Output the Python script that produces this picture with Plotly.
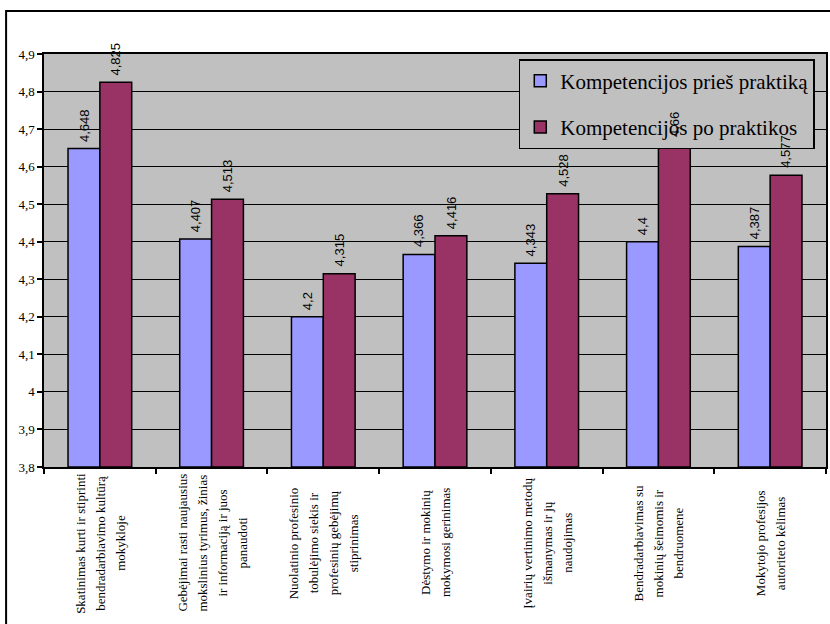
import plotly.graph_objects as go

categories = [
    ["Skatinimas kurti ir stiprinti", "bendradarbiavimo kultūrą", "mokykloje"],
    ["Gebėjimai rasti naujausius", "mokslinius tyrimus, žinias", "ir informaciją ir juos", "panaudoti"],
    ["Nuolatinio profesinio", "tobulėjimo siekis ir", "profesinių gebėjimų", "stiprinimas"],
    ["Dėstymo ir mokinių", "mokymosi gerinimas"],
    ["Įvairių vertinimo metodų", "išmanymas ir jų", "naudojimas"],
    ["Bendradarbiavimas su", "mokinių šeimomis ir", "bendruomene"],
    ["Mokytojo profesijos", "autoriteto kėlimas"],
]
before = [4.648, 4.407, 4.2, 4.366, 4.343, 4.4, 4.387]
after = [4.825, 4.513, 4.315, 4.416, 4.528, 4.66, 4.577]
series_names = ["Kompetencijos prieš praktiką", "Kompetencijos po praktikos"]
y_ticks = [3.8, 3.9, 4.0, 4.1, 4.2, 4.3, 4.4, 4.5, 4.6, 4.7, 4.8, 4.9]

cat_keys = [" ".join(c) for c in categories]
SERIF = "Liberation Serif, Times New Roman, serif"

def fmt(v):
    return ("%g" % v).replace(".", ",")

fig = go.Figure()
for name, vals, color, grp in [
    (series_names[0], before, "#9999FF", "a"),
    (series_names[1], after, "#993366", "b"),
]:
    fig.add_trace(go.Bar(
        x=cat_keys, y=[v - 3.8 for v in vals], base=3.8,
        name=name, legendgroup=grp,
        marker=dict(color=color, line=dict(color="black", width=1.5)),
        cliponaxis=False,
    ))

L, R, T, B = 44, 2, 54, 157
W, H = 830, 624
pw, ph = W - L - R, H - T - B
bargap = 0.43
half_bar = pw / len(categories) * (1 - bargap) / 4

annotations = []
# value labels (drawn as annotations so they sit above the legend, as in the reference)
for vals, sgn in [(before, -1), (after, 1)]:
    for key, v in zip(cat_keys, vals):
        annotations.append(dict(
            x=key, xref="x", y=v, yref="y", text=fmt(v), showarrow=False,
            textangle=-90, xanchor="center", yanchor="bottom",
            xshift=sgn * half_bar, yshift=5,
            font=dict(family="Liberation Sans, Arial, sans-serif", size=13, color="black"),
        ))
# category labels
for key, lines in zip(cat_keys, categories):
    n = len(lines)
    for j, line in enumerate(lines):
        annotations.append(dict(
            x=key, xref="x", y=-(543 - (H - B)) / ph, yref="paper",
            text=line, showarrow=False, textangle=-90,
            xanchor="center", yanchor="middle",
            xshift=(j - (n - 1) / 2) * 20,
            font=dict(family=SERIF, size=13, color="black"),
        ))

fig.update_layout(
    width=W, height=H,
    margin=dict(l=L, r=R, t=T, b=B),
    paper_bgcolor="white", plot_bgcolor="#C0C0C0",
    separators=", ",
    barmode="group", bargap=bargap, bargroupgap=0,
    showlegend=True,
    legend=dict(
        x=(520 - L) / pw, y=((H - B) - 59) / ph, xanchor="left", yanchor="top",
        bgcolor="#C0C0C0", bordercolor="black", borderwidth=1.5,
        font=dict(family=SERIF, size=21, color="black"),
        tracegroupgap=16, traceorder="grouped",
    ),
    annotations=annotations,
    shapes=[dict(type="rect", xref="paper", yref="paper",
                 x0=-(L - 6) / pw, x1=1.05, y0=-0.5, y1=((H - B) - 11) / ph,
                 line=dict(color="black", width=2), layer="below")],
)
fig.update_xaxes(
    type="category", showticklabels=False, tickson="boundaries",
    ticks="outside", ticklen=5, tickwidth=1.5, tickcolor="black",
    showline=True, linecolor="black", linewidth=1.5, mirror=True,
    showgrid=False,
)
fig.update_yaxes(
    range=[3.8, 4.9], tickvals=y_ticks,
    ticks="outside", ticklen=5, tickwidth=1.5, tickcolor="black",
    showgrid=True, gridcolor="black", gridwidth=1.3,
    showline=True, linecolor="black", linewidth=1.5, mirror=True,
    zeroline=False,
    tickfont=dict(family=SERIF, size=13, color="black"),
)
fig.write_html("out.html", config={"displayModeBar": False},
               post_script="document.body.style.margin='0';")
